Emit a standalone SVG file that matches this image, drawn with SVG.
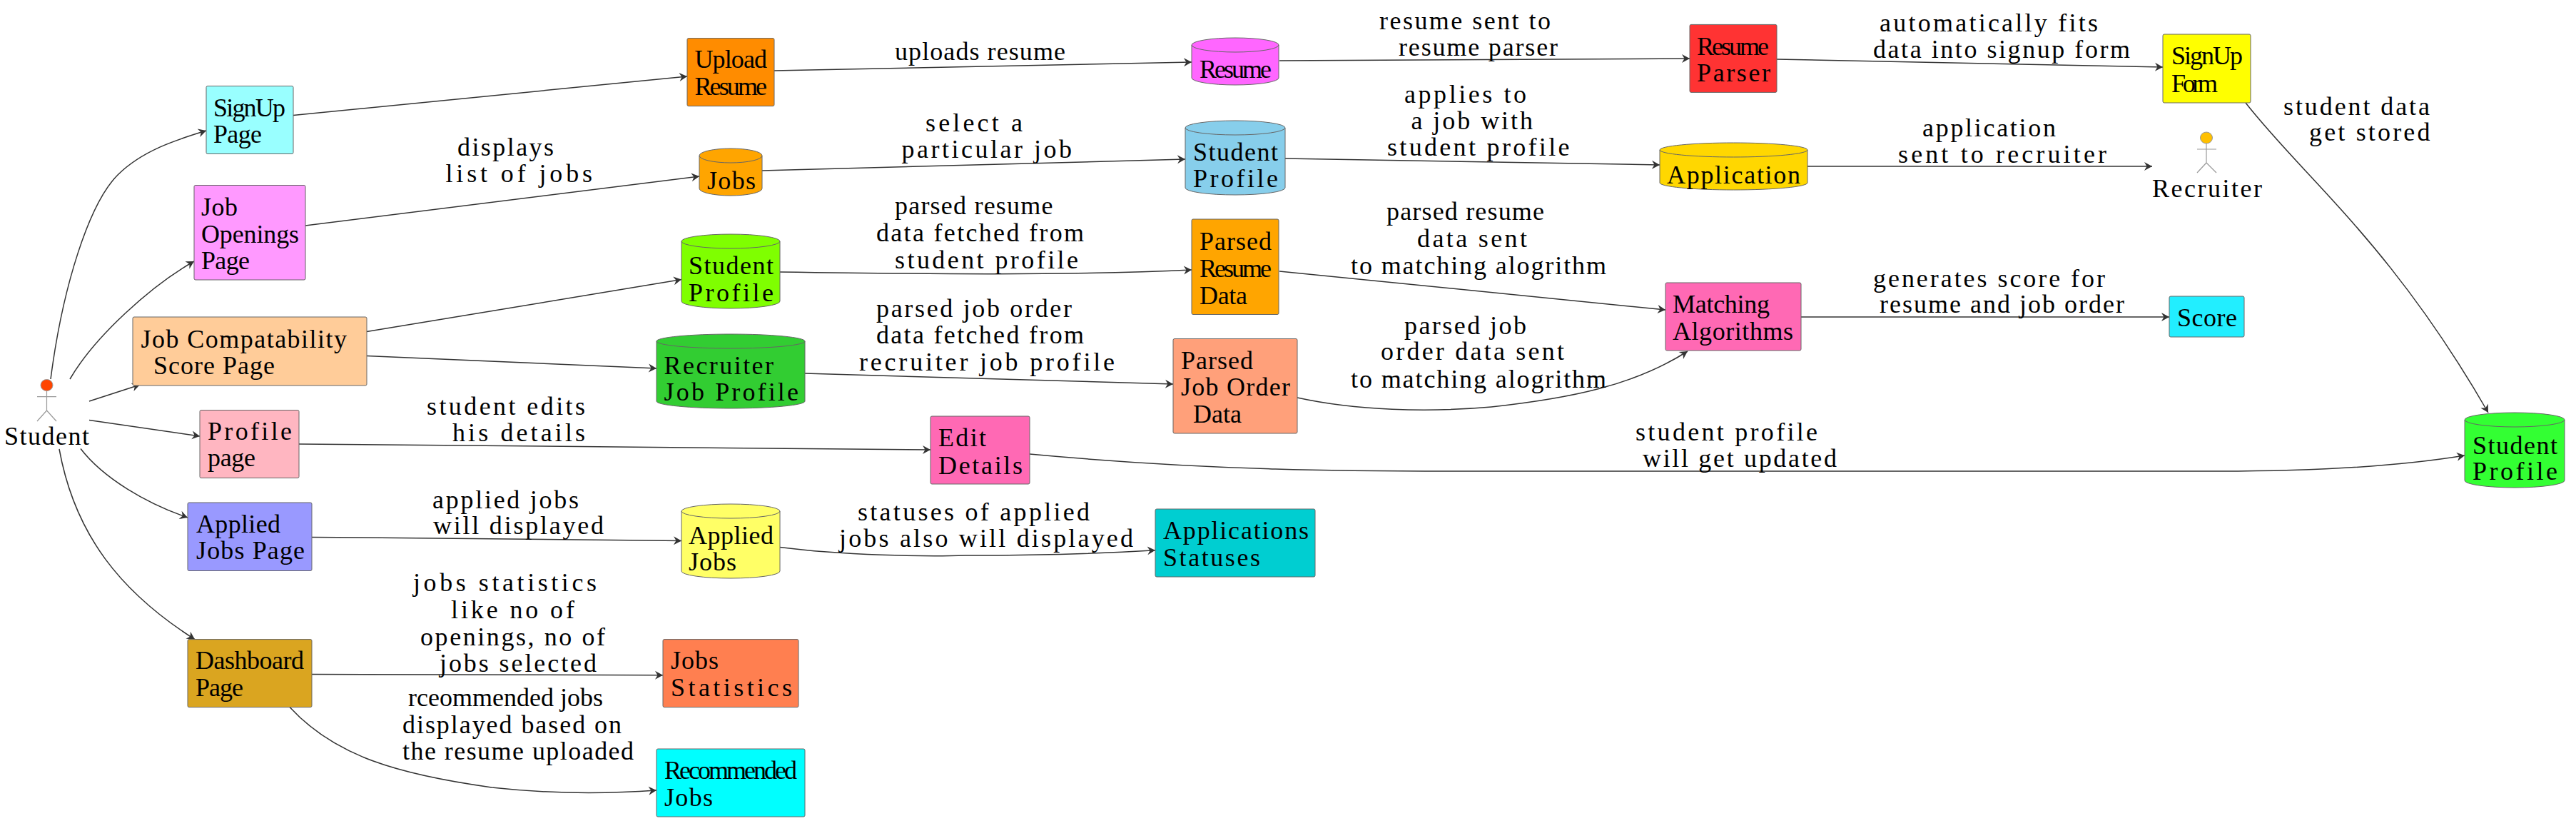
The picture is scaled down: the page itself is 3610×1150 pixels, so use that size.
<svg xmlns="http://www.w3.org/2000/svg" width="3610" height="1150" viewBox="0 0 3610 1150">
<style>
text{font-family:"Liberation Serif","Times New Roman",serif;font-size:36px;fill:#000}
.n{stroke:#666;stroke-width:1}
.l{fill:none;stroke:#666;stroke-width:1}
.c{fill:none;stroke:#333;stroke-width:1.5;marker-end:url(#a)}
.s{fill:none;stroke:#999;stroke-width:1.2}
</style>
<defs>
<marker id="a" markerUnits="userSpaceOnUse" markerWidth="16" markerHeight="16" refX="13" refY="8" orient="auto"><path d="M2,2 L13,8 L2,14 L5.5,8 Z" fill="#333"/></marker>
</defs>
<rect width="3610" height="1150" fill="#fff"/>
<g id="connectors">
<path class="c" d="M71,531 C88,400 125,285 165,245 C200,210 250,195 289,183"/>
<path class="c" d="M98,531 C133,471 212,400 272,366"/>
<path class="c" d="M125,562 L196,539"/>
<path class="c" d="M125,588.6 L280,611"/>
<path class="c" d="M113,628.5 C145,670 205,705 263,725"/>
<path class="c" d="M83,629 C105,750 170,830 273,895.6"/>
<path class="c" d="M411,161.5 L963,107"/>
<path class="c" d="M428,316 L980,247"/>
<path class="c" d="M514,464.6 L955,391.5"/>
<path class="c" d="M514,498.6 L920,516"/>
<path class="c" d="M419,622 L1304,630"/>
<path class="c" d="M437,752.4 L955,757.4"/>
<path class="c" d="M437,944.6 L929,945.7"/>
<path class="c" d="M406,990.5 C470,1060 560,1085 689,1103 C770,1112 850,1112 920,1107"/>
<path class="c" d="M1085,99 L1670,87"/>
<path class="c" d="M1068,239 L1661,223"/>
<path class="c" d="M1093,381 C1300,384 1500,386 1670,378"/>
<path class="c" d="M1128,523 L1644,538"/>
<path class="c" d="M1793,85 L2368,82"/>
<path class="c" d="M1801,222 L2326,231"/>
<path class="c" d="M1793,380 L2334,434"/>
<path class="c" d="M1818,557 C1900,575 2000,578 2090,570 C2200,558 2290,540 2365,492"/>
<path class="c" d="M2490,83 L3031,94"/>
<path class="c" d="M2533,233 L3016,233"/>
<path class="c" d="M2524,444 L3040,444"/>
<path class="c" d="M3147,144 C3230,250 3350,340 3487,578"/>
<path class="c" d="M1443,636 C1700,660 1900,660 2057,660 L3110,660 C3230,660 3350,655 3454,638"/>
<path class="c" d="M1093,766.6 C1180,778 1300,780 1353,778 C1450,778 1550,775 1619,770.7"/>
</g>
<g id="student"><ellipse cx="65.5" cy="539.5" rx="8.5" ry="8" fill="#FF4500" stroke="#999"/><path class="s" d="M65.5,548V575M52,555.7H79M65.5,575L52,590M65.5,575L79,590"/><text x="6" y="622.7" textLength="119">Student</text></g>
<g id="signup-page"><rect class="n" x="289" y="120.5" width="122" height="95" rx="2" fill="#99FFFF"/><text x="299" y="163" textLength="101">SignUp</text><text x="299" y="200" textLength="68">Page</text></g>
<g id="job-openings"><rect class="n" x="272" y="259.5" width="156" height="132.5" rx="2" fill="#FF99FF"/><text x="282" y="302" textLength="51">Job</text><text x="282" y="340" textLength="137">Openings</text><text x="282" y="377" textLength="68">Page</text></g>
<g id="job-compat"><rect class="n" x="186" y="444" width="328" height="96" rx="2" fill="#FFCC99"/><text x="197.5" y="487" textLength="288.5">Job Compatability</text><text x="215" y="524" textLength="170">Score Page</text></g>
<g id="profile-page"><rect class="n" x="280" y="574.5" width="139" height="95" rx="2" fill="#FFB6C1"/><text x="291" y="616" textLength="118">Profile</text><text x="291" y="653" textLength="67">page</text></g>
<g id="applied-page"><rect class="n" x="263" y="704" width="174" height="95.5" rx="2" fill="#9999FF"/><text x="275" y="746" textLength="118">Applied</text><text x="275" y="783" textLength="152">Jobs Page</text></g>
<g id="dashboard"><rect class="n" x="263" y="895.6" width="174" height="95" rx="2" fill="#DAA520"/><text x="274" y="937" textLength="152">Dashboard</text><text x="274" y="975" textLength="67">Page</text></g>
<g id="upload"><rect class="n" x="963" y="53.6" width="122" height="95" rx="2" fill="#FF8C00"/><text x="973.5" y="95" textLength="101.5">Upload</text><text x="973.5" y="133" textLength="101.5">Resume</text></g>
<g id="jobs-db"><path class="n" d="M980,218a44,10 0 0 1 88,0V264a44,10 0 0 1 -88,0Z" fill="#FFA500"/><path class="l" d="M980,218a44,10 0 0 0 88,0"/><text x="991" y="265" textLength="68">Jobs</text></g>
<g id="student-profile-a"><path class="n" d="M955,338a69,10 0 0 1 138,0V422a69,10 0 0 1 -138,0Z" fill="#7FFF00"/><path class="l" d="M955,338a69,10 0 0 0 138,0"/><text x="965" y="384" textLength="119">Student</text><text x="965" y="422" textLength="119">Profile</text></g>
<g id="recruiter-profile"><path class="n" d="M920,478a104,10 0 0 1 208,0V562a104,10 0 0 1 -208,0Z" fill="#32CD32"/><path class="l" d="M920,478a104,10 0 0 0 208,0"/><text x="930.6" y="524" textLength="153.4">Recruiter</text><text x="930.6" y="561" textLength="188.4">Job Profile</text></g>
<g id="applied-db"><path class="n" d="M955,716a69,10 0 0 1 138,0V800a69,10 0 0 1 -138,0Z" fill="#FFFF66"/><path class="l" d="M955,716a69,10 0 0 0 138,0"/><text x="965" y="762" textLength="119">Applied</text><text x="965" y="799" textLength="67">Jobs</text></g>
<g id="jobs-stats"><rect class="n" x="929" y="895.6" width="190" height="95" rx="2" fill="#FF7F50"/><text x="940" y="937" textLength="67">Jobs</text><text x="940" y="975" textLength="170">Statistics</text></g>
<g id="recommended"><rect class="n" x="920" y="1049" width="208" height="95" rx="2" fill="#00FFFF"/><text x="931" y="1091" textLength="186">Recommended</text><text x="931" y="1129" textLength="68">Jobs</text></g>
<g id="resume-db"><path class="n" d="M1670,63a61,10 0 0 1 122,0V109a61,10 0 0 1 -122,0Z" fill="#FF66FF"/><path class="l" d="M1670,63a61,10 0 0 0 122,0"/><text x="1681" y="109" textLength="101">Resume</text></g>
<g id="student-profile-b"><path class="n" d="M1661,179a70,10 0 0 1 140,0V263a70,10 0 0 1 -140,0Z" fill="#87CEEB"/><path class="l" d="M1661,179a70,10 0 0 0 140,0"/><text x="1672" y="225" textLength="119">Student</text><text x="1672" y="262" textLength="119">Profile</text></g>
<g id="parsed-resume"><rect class="n" x="1670" y="307" width="122" height="133.5" rx="2" fill="#FFA500"/><text x="1681" y="350" textLength="101">Parsed</text><text x="1681" y="388" textLength="101">Resume</text><text x="1681" y="425.6" textLength="67">Data</text></g>
<g id="parsed-job"><rect class="n" x="1644" y="474.5" width="174" height="132.5" rx="2" fill="#FFA07A"/><text x="1655" y="517" textLength="101">Parsed</text><text x="1655" y="554" textLength="153">Job Order</text><text x="1672" y="592" textLength="68">Data</text></g>
<g id="edit-details"><rect class="n" x="1304" y="583" width="139" height="95" rx="2" fill="#FF69B4"/><text x="1315" y="625" textLength="67">Edit</text><text x="1315" y="664" textLength="118">Details</text></g>
<g id="statuses"><rect class="n" x="1619" y="713" width="224" height="95" rx="2" fill="#00CED1"/><text x="1630" y="755" textLength="204">Applications</text><text x="1630" y="793" textLength="136">Statuses</text></g>
<g id="parser"><rect class="n" x="2368" y="34.4" width="122" height="95" rx="2" fill="#FF3333"/><text x="2378" y="76.6" textLength="101">Resume</text><text x="2378" y="114" textLength="103">Parser</text></g>
<g id="application"><path class="n" d="M2326,210a103.5,10 0 0 1 207,0V256a103.5,10 0 0 1 -207,0Z" fill="#FFD700"/><path class="l" d="M2326,210a103.5,10 0 0 0 207,0"/><text x="2336" y="257" textLength="187">Application</text></g>
<g id="matching"><rect class="n" x="2334" y="396" width="190" height="95" rx="2" fill="#FF69B4"/><text x="2344" y="438" textLength="136">Matching</text><text x="2344" y="476" textLength="169">Algorithms</text></g>
<g id="signup-form"><rect class="n" x="3031" y="48" width="123" height="96" rx="2" fill="#FFFF00"/><text x="3043" y="90" textLength="100">SignUp</text><text x="3043" y="128.5" textLength="65">Form</text></g>
<g id="recruiter"><ellipse cx="3092" cy="193" rx="8.5" ry="8" fill="#FFC000" stroke="#999"/><path class="s" d="M3092,201V228M3079,209H3106M3092,228L3079,242M3092,228L3106,242"/><text x="3016" y="276" textLength="154">Recruiter</text></g>
<g id="score"><rect class="n" x="3040" y="415" width="105" height="57" rx="2" fill="#22EEFF"/><text x="3051" y="457" textLength="84">Score</text></g>
<g id="student-profile-c"><path class="n" d="M3454,588a70,10 0 0 1 140,0V673a70,10 0 0 1 -140,0Z" fill="#33FF33"/><path class="l" d="M3454,588a70,10 0 0 0 140,0"/><text x="3465" y="636" textLength="119">Student</text><text x="3465" y="672" textLength="119">Profile</text></g>
<g id="labels">
<text x="641" y="218" textLength="135">displays</text><text x="624.5" y="254.5" textLength="205.5">list of jobs</text>
<text x="598" y="581" textLength="222">student edits</text><text x="634" y="618" textLength="186">his details</text>
<text x="606" y="711.5" textLength="205">applied jobs</text><text x="607" y="748" textLength="239">will displayed</text>
<text x="579" y="828" textLength="257">jobs statistics</text><text x="632" y="866" textLength="173">like no of</text><text x="589" y="904" textLength="259">openings, no of</text><text x="616" y="941" textLength="220">jobs selected</text>
<text x="572" y="989" textLength="273">rceommended jobs</text><text x="564" y="1026.5" textLength="307">displayed based on</text><text x="564" y="1064" textLength="324">the resume uploaded</text>
<text x="1254" y="84" textLength="239">uploads resume</text>
<text x="1297" y="184" textLength="136">select a</text><text x="1263.5" y="221" textLength="238.5">particular job</text>
<text x="1254" y="300" textLength="221.5">parsed resume</text><text x="1228" y="337.5" textLength="291">data fetched from</text><text x="1254" y="376" textLength="257">student profile</text>
<text x="1228" y="444" textLength="274">parsed job order</text><text x="1228" y="481" textLength="291">data fetched from</text><text x="1204" y="519" textLength="358">recruiter job profile</text>
<text x="1933" y="41" textLength="240">resume sent to</text><text x="1960" y="78" textLength="223">resume parser</text>
<text x="1968" y="143.5" textLength="171">applies to</text><text x="1977.5" y="180.6" textLength="170.5">a job with</text><text x="1944" y="218" textLength="255.5">student profile</text>
<text x="1943" y="308" textLength="221">parsed resume</text><text x="1986" y="345.6" textLength="154">data sent</text><text x="1893" y="384" textLength="358">to matching alogrithm</text>
<text x="1968" y="468" textLength="171">parsed job</text><text x="1935" y="504" textLength="257">order data sent</text><text x="1893" y="543" textLength="358">to matching alogrithm</text>
<text x="2634" y="43.6" textLength="306">automatically fits</text><text x="2625" y="81" textLength="360">data into signup form</text>
<text x="2694" y="190.5" textLength="187">application</text><text x="2660" y="228" textLength="292">sent to recruiter</text>
<text x="2625" y="402" textLength="325">generates score for</text><text x="2634" y="438" textLength="343">resume and job order</text>
<text x="3200" y="160.6" textLength="205">student data</text><text x="3236" y="197" textLength="169.5">get stored</text>
<text x="2292" y="617" textLength="255">student profile</text><text x="2302" y="654" textLength="272">will get updated</text>
<text x="1202" y="729" textLength="325">statuses of applied</text><text x="1176" y="766" textLength="412">jobs also will displayed</text>
</g>
</svg>
